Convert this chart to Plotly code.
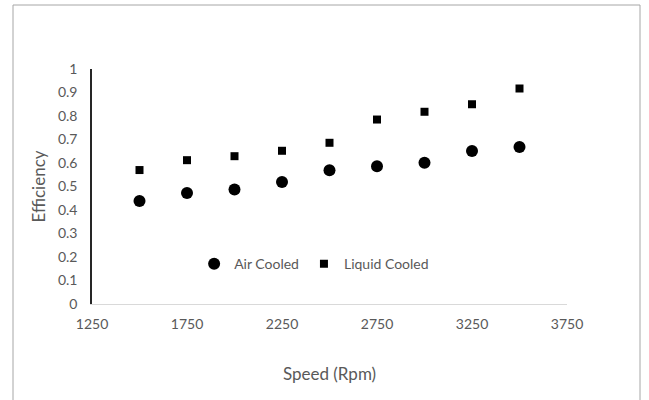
import plotly.graph_objects as go

speed = [1500, 1750, 2000, 2250, 2500, 2750, 3000, 3250, 3500]
air_cooled = [0.438, 0.472, 0.487, 0.519, 0.569, 0.586, 0.601, 0.651, 0.668]
liquid_cooled = [0.570, 0.612, 0.629, 0.652, 0.686, 0.785, 0.818, 0.850, 0.917]
x_ticks = [1250, 1750, 2250, 2750, 3250, 3750]
y_ticks = [0, 0.1, 0.2, 0.3, 0.4, 0.5, 0.6, 0.7, 0.8, 0.9, 1]

font_family = "Lato, Liberation Sans, sans-serif"
gray = "#595959"

fig = go.Figure()
fig.add_trace(go.Scatter(x=speed, y=air_cooled, mode="markers", name="Air Cooled",
                         marker=dict(symbol="circle", size=12, color="black")))
fig.add_trace(go.Scatter(x=speed, y=liquid_cooled, mode="markers", name="Liquid Cooled",
                         marker=dict(symbol="square", size=8, color="black")))

fig.update_layout(
    width=649, height=400,
    margin=dict(l=92, r=82, t=69, b=96),
    paper_bgcolor="white", plot_bgcolor="white",
    font=dict(family=font_family, color=gray, size=14),
    showlegend=True,
    legend=dict(orientation="h", x=0.215, y=0.17, xanchor="left", yanchor="middle",
                bgcolor="rgba(0,0,0,0)", font=dict(size=14, color=gray),
                itemwidth=30, traceorder="normal"),
    xaxis=dict(range=[1250, 3750], tickvals=x_ticks, ticktext=[str(v) for v in x_ticks],
               showgrid=False, zeroline=False, showline=True, linecolor="#d9d9d9", linewidth=1,
               ticks="", ticklabelstandoff=7,
               title=dict(text="Speed (Rpm)", font=dict(size=17, color=gray), standoff=37)),
    yaxis=dict(range=[0, 1], tickvals=y_ticks, ticktext=[("%g" % v) for v in y_ticks],
               showgrid=False, zeroline=False, showline=True, linecolor="#262626", linewidth=1.5,
               ticks="", ticklabelstandoff=10,
               title=dict(text="Efficiency", font=dict(size=17, color=gray), standoff=8)),
)

fig.add_shape(type="rect", xref="paper", yref="paper",
              x0=(13 - 92) / 475, x1=(640 - 92) / 475,
              y0=-(96 + 10) / 235, y1=1 + (69 - 5) / 235,
              line=dict(color="#a6a6a6", width=1), fillcolor="rgba(0,0,0,0)", layer="below")

fig.write_html("out.html")
